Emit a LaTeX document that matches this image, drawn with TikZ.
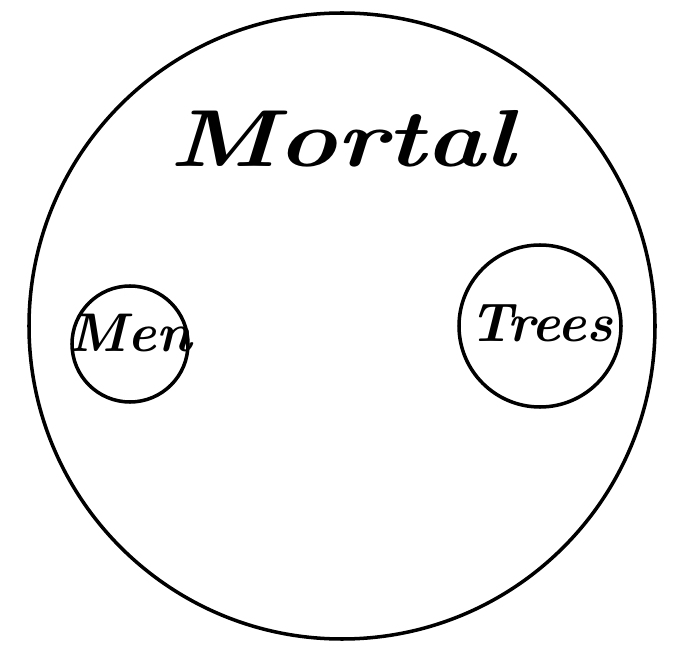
\documentclass[tikz,border=0pt]{standalone}
\usepackage{tikz}
\usetikzlibrary{calc}

\begin{document}
\begin{tikzpicture}[
    setc/.style={draw=black,circle,line width=2pt,inner sep=0pt},
    biglbl/.style={font=\fontsize{46}{50}\selectfont\bfseries\itshape,xscale=1.24,anchor=base,inner sep=0pt},
    smalllbl/.style={font=\fontsize{31}{34}\selectfont\bfseries\itshape,anchor=base,inner sep=0pt}]
  \useasboundingbox (0,0) rectangle (13.62,-13.2);

  % the whole class and its two members
  \node[setc,minimum size=12.52cm] (mortal) at (6.84,-6.52) {};
  \node[setc,minimum size=2.32cm] (men) at (2.60,-6.88) {};
  \node[setc,minimum size=3.24cm] (trees) at (10.80,-6.52) {};

  % labels
  \node[biglbl] (mortaltx) at (6.84,-3.34) {Mortal};
  \node[smalllbl] (mentx) at ($(men)+(0,-0.16)$) {Men};
  \node[smalllbl] (treestx) at ($(trees)+(0.02,-0.32)$) {Trees};
\end{tikzpicture}
\end{document}
